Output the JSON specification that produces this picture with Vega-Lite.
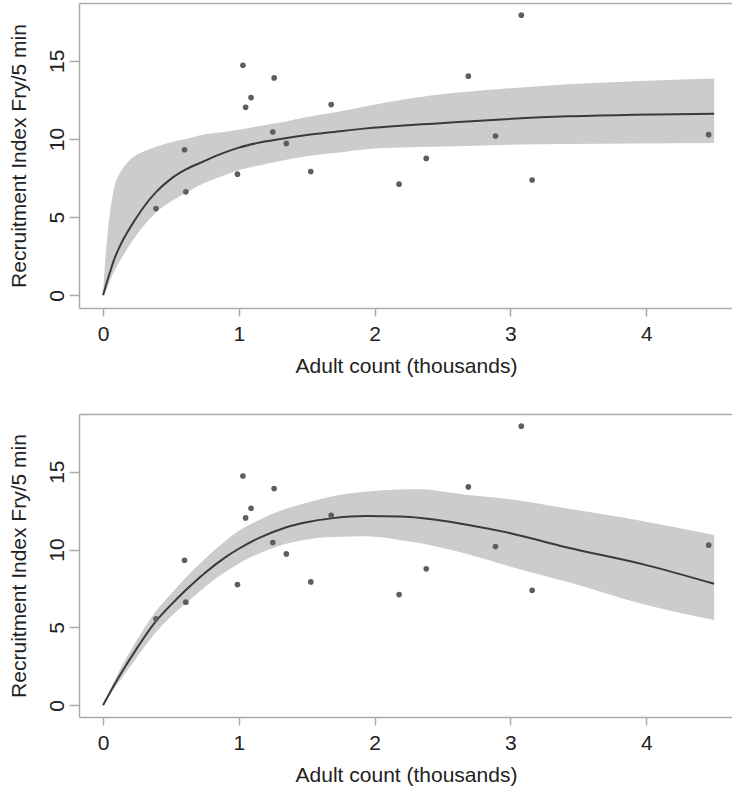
{
  "$schema": "https://vega.github.io/schema/vega-lite/v6.json",
  "autosize": {"type": "pad"},
  "padding": {"left": 8, "top": 3, "right": 0, "bottom": 2},
  "background": "white",
  "spacing": 37,
  "config": {
    "view": {"stroke": null},
    "axis": {
      "grid": false,
      "domainColor": "#ababab",
      "domainWidth": 1.5,
      "tickColor": "#ababab",
      "tickWidth": 1.5,
      "labelFont": "Liberation Sans",
      "labelFontSize": 21,
      "labelColor": "#222222",
      "titleFont": "Liberation Sans",
      "titleFontSize": 21,
      "titleFontWeight": "normal",
      "titleColor": "#222222"
    }
  },
  "datasets": {
    "pts": [
      {"x": 0.39, "y": 5.55}, {"x": 0.60, "y": 9.31}, {"x": 0.61, "y": 6.62},
      {"x": 0.99, "y": 7.75}, {"x": 1.03, "y": 14.72}, {"x": 1.05, "y": 12.03},
      {"x": 1.09, "y": 12.65}, {"x": 1.26, "y": 13.91}, {"x": 1.25, "y": 10.45},
      {"x": 1.35, "y": 9.72}, {"x": 1.53, "y": 7.92}, {"x": 1.68, "y": 12.2},
      {"x": 2.18, "y": 7.11}, {"x": 2.38, "y": 8.76}, {"x": 2.69, "y": 14.02},
      {"x": 2.89, "y": 10.19}, {"x": 3.08, "y": 17.92}, {"x": 3.16, "y": 7.38},
      {"x": 4.46, "y": 10.28}
    ],
    "top": [
      {"x": 0, "lo": 0, "fit": 0, "hi": 0},
      {"x": 0.01, "lo": 0.1, "fit": 0.3, "hi": 1.5},
      {"x": 0.03, "lo": 0.4, "fit": 0.9, "hi": 3.6},
      {"x": 0.05, "lo": 0.9, "fit": 1.45, "hi": 5.2},
      {"x": 0.08, "lo": 1.5, "fit": 2.25, "hi": 6.8},
      {"x": 0.13, "lo": 2.3, "fit": 3.25, "hi": 7.9},
      {"x": 0.18, "lo": 3.0, "fit": 4.05, "hi": 8.5},
      {"x": 0.23, "lo": 3.65, "fit": 4.75, "hi": 8.9},
      {"x": 0.3, "lo": 4.45, "fit": 5.65, "hi": 9.2},
      {"x": 0.39, "lo": 5.3, "fit": 6.6, "hi": 9.5},
      {"x": 0.5, "lo": 6.0, "fit": 7.45, "hi": 9.8},
      {"x": 0.61, "lo": 6.55, "fit": 8.05, "hi": 10.0},
      {"x": 0.75, "lo": 7.2, "fit": 8.6, "hi": 10.3},
      {"x": 0.84, "lo": 7.5, "fit": 8.95, "hi": 10.4},
      {"x": 1.0, "lo": 8.0, "fit": 9.45, "hi": 10.6},
      {"x": 1.2, "lo": 8.4, "fit": 9.85, "hi": 10.9},
      {"x": 1.34, "lo": 8.65, "fit": 10.05, "hi": 11.1},
      {"x": 1.5, "lo": 8.9, "fit": 10.25, "hi": 11.4},
      {"x": 1.7, "lo": 9.1, "fit": 10.45, "hi": 11.7},
      {"x": 1.94, "lo": 9.35, "fit": 10.68, "hi": 12.1},
      {"x": 2.19, "lo": 9.45, "fit": 10.85, "hi": 12.5},
      {"x": 2.43, "lo": 9.5, "fit": 10.98, "hi": 12.8},
      {"x": 2.93, "lo": 9.62, "fit": 11.25, "hi": 13.2},
      {"x": 3.42, "lo": 9.68, "fit": 11.45, "hi": 13.5},
      {"x": 3.91, "lo": 9.72, "fit": 11.55, "hi": 13.7},
      {"x": 4.5, "lo": 9.75, "fit": 11.62, "hi": 13.87}
    ],
    "bottom": [
      {"x": 0, "lo": 0, "fit": 0, "hi": 0},
      {"x": 0.08, "lo": 1.05, "fit": 1.27, "hi": 1.5},
      {"x": 0.15, "lo": 1.9, "fit": 2.3, "hi": 2.7},
      {"x": 0.23, "lo": 2.85, "fit": 3.4, "hi": 3.9},
      {"x": 0.39, "lo": 4.7, "fit": 5.4, "hi": 6.05},
      {"x": 0.5, "lo": 5.7, "fit": 6.45, "hi": 7.15},
      {"x": 0.61, "lo": 6.55, "fit": 7.4, "hi": 8.2},
      {"x": 0.75, "lo": 7.6, "fit": 8.5, "hi": 9.4},
      {"x": 0.9, "lo": 8.55, "fit": 9.5, "hi": 10.55},
      {"x": 1.0, "lo": 9.1, "fit": 10.05, "hi": 11.2},
      {"x": 1.15, "lo": 9.75, "fit": 10.75, "hi": 11.9},
      {"x": 1.34, "lo": 10.35, "fit": 11.4, "hi": 12.6},
      {"x": 1.5, "lo": 10.65, "fit": 11.75, "hi": 13.0},
      {"x": 1.68, "lo": 10.8, "fit": 12.0, "hi": 13.4},
      {"x": 1.94, "lo": 10.85, "fit": 12.15, "hi": 13.72},
      {"x": 2.19, "lo": 10.6, "fit": 12.12, "hi": 13.85},
      {"x": 2.34, "lo": 10.4, "fit": 12.03, "hi": 13.87},
      {"x": 2.5, "lo": 10.1, "fit": 11.85, "hi": 13.72},
      {"x": 2.69, "lo": 9.7, "fit": 11.58, "hi": 13.5},
      {"x": 3.0, "lo": 8.9, "fit": 11.05, "hi": 13.23},
      {"x": 3.41, "lo": 7.94, "fit": 10.15, "hi": 12.65},
      {"x": 4.0, "lo": 6.44, "fit": 9.0, "hi": 11.79},
      {"x": 4.5, "lo": 5.48, "fit": 7.8, "hi": 10.94}
    ]
  },
  "vconcat": [
    {
      "width": 654,
      "height": 305,
      "resolve": {"axis": {"x": "independent"}},
      "layer": [
        {
          "data": {"name": "top"},
          "mark": {"type": "area", "color": "#cccccc", "opacity": 1, "interpolate": "monotone"},
          "encoding": {
            "x": {"field": "x", "type": "quantitative",
              "scale": {"domain": [-0.177, 4.639], "nice": false, "zero": false},
              "axis": {"values": [0, 1, 2, 3, 4], "tickSize": 8, "labelPadding": 7, "title": "Adult count (thousands)", "titleBaseline": "alphabetic", "titleY": 64.5, "labelFlush": false, "labelOverlap": false}},
            "y": {"field": "lo", "type": "quantitative", "title": "Recruitment Index Fry/5 min",
              "scale": {"domain": [-0.81, 18.7], "nice": false, "zero": false},
              "axis": {"values": [0, 5, 10, 15], "labelAngle": 270, "labelAlign": "center", "labelBaseline": "alphabetic", "tickSize": 10, "labelPadding": 6, "titleX": -53.5, "titleAngle": 270, "titleBaseline": "alphabetic", "titleAlign": "center"}},
            "y2": {"field": "hi"}
          }
        },
        {
          "data": {"name": "top"},
          "mark": {"type": "line", "color": "#3a3a3a", "strokeWidth": 2, "interpolate": "monotone"},
          "encoding": {
            "x": {"field": "x", "type": "quantitative",
              "axis": {"orient": "top", "labels": false, "ticks": false, "title": null, "domain": true}},
            "y": {"field": "fit", "type": "quantitative", "title": "Recruitment Index Fry/5 min",
              "axis": {"values": [0, 5, 10, 15], "labelAngle": 270, "labelAlign": "center", "labelBaseline": "alphabetic", "tickSize": 10, "labelPadding": 6, "titleX": -53.5, "titleAngle": 270, "titleBaseline": "alphabetic", "titleAlign": "center"}}
          }
        },
        {
          "data": {"name": "pts"},
          "mark": {"type": "point", "filled": true, "color": "#5e5e5e", "size": 32, "opacity": 1},
          "encoding": {
            "x": {"field": "x", "type": "quantitative", "axis": null},
            "y": {"field": "y", "type": "quantitative", "title": "Recruitment Index Fry/5 min",
              "axis": {"values": [0, 5, 10, 15], "labelAngle": 270, "labelAlign": "center", "labelBaseline": "alphabetic", "tickSize": 10, "labelPadding": 6, "titleX": -53.5, "titleAngle": 270, "titleBaseline": "alphabetic", "titleAlign": "center"}}
          }
        }
      ]
    },
    {
      "width": 654,
      "height": 303,
      "resolve": {"axis": {"x": "independent"}},
      "layer": [
        {
          "data": {"name": "bottom"},
          "mark": {"type": "area", "color": "#cccccc", "opacity": 1, "interpolate": "monotone"},
          "encoding": {
            "x": {"field": "x", "type": "quantitative",
              "scale": {"domain": [-0.177, 4.639], "nice": false, "zero": false},
              "axis": {"values": [0, 1, 2, 3, 4], "tickSize": 8, "labelPadding": 7, "title": "Adult count (thousands)", "titleBaseline": "alphabetic", "titleY": 64.5, "labelFlush": false, "labelOverlap": false}},
            "y": {"field": "lo", "type": "quantitative", "title": "Recruitment Index Fry/5 min",
              "scale": {"domain": [-0.75, 18.7], "nice": false, "zero": false},
              "axis": {"values": [0, 5, 10, 15], "labelAngle": 270, "labelAlign": "center", "labelBaseline": "alphabetic", "tickSize": 10, "labelPadding": 6, "titleX": -53.5, "titleAngle": 270, "titleBaseline": "alphabetic", "titleAlign": "center"}},
            "y2": {"field": "hi"}
          }
        },
        {
          "data": {"name": "bottom"},
          "mark": {"type": "line", "color": "#3a3a3a", "strokeWidth": 2, "interpolate": "monotone"},
          "encoding": {
            "x": {"field": "x", "type": "quantitative",
              "axis": {"orient": "top", "labels": false, "ticks": false, "title": null, "domain": true}},
            "y": {"field": "fit", "type": "quantitative", "title": "Recruitment Index Fry/5 min",
              "axis": {"values": [0, 5, 10, 15], "labelAngle": 270, "labelAlign": "center", "labelBaseline": "alphabetic", "tickSize": 10, "labelPadding": 6, "titleX": -53.5, "titleAngle": 270, "titleBaseline": "alphabetic", "titleAlign": "center"}}
          }
        },
        {
          "data": {"name": "pts"},
          "mark": {"type": "point", "filled": true, "color": "#5e5e5e", "size": 32, "opacity": 1},
          "encoding": {
            "x": {"field": "x", "type": "quantitative", "axis": null},
            "y": {"field": "y", "type": "quantitative", "title": "Recruitment Index Fry/5 min",
              "axis": {"values": [0, 5, 10, 15], "labelAngle": 270, "labelAlign": "center", "labelBaseline": "alphabetic", "tickSize": 10, "labelPadding": 6, "titleX": -53.5, "titleAngle": 270, "titleBaseline": "alphabetic", "titleAlign": "center"}}
          }
        }
      ]
    }
  ]
}
